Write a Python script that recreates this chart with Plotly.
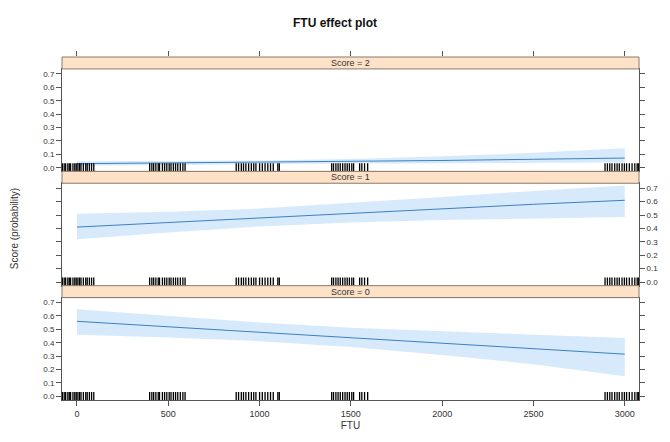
import plotly.graph_objects as go

# Effect of FTU on the predicted probability of each Score level (ordinal model)
ftu = [0, 500, 1000, 1500, 2000, 2500, 3000]

score2_fit = [0.030, 0.035, 0.040, 0.047, 0.054, 0.063, 0.072]
score2_lo = [0.012, 0.020, 0.027, 0.031, 0.034, 0.037, 0.039]
score2_hi = [0.048, 0.050, 0.054, 0.065, 0.085, 0.112, 0.145]

score1_fit = [0.410, 0.445, 0.480, 0.515, 0.548, 0.580, 0.610]
score1_lo = [0.320, 0.370, 0.415, 0.445, 0.462, 0.475, 0.485]
score1_hi = [0.510, 0.525, 0.548, 0.590, 0.635, 0.680, 0.720]

score0_fit = [0.560, 0.520, 0.480, 0.440, 0.400, 0.355, 0.315]
score0_lo = [0.460, 0.440, 0.412, 0.368, 0.308, 0.240, 0.150]
score0_hi = [0.650, 0.600, 0.552, 0.512, 0.488, 0.462, 0.435]

# observed FTU values (jittered) shown as a rug
rug_ftu = [
    -95, -88, -80, -70, -62, -50, -42, -35, -22, -12, -4, 5, 14, 22, 35, 48, 56, 68, 80, 92,
    398, 410, 420, 432, 445, 452, 468, 480, 492, 505, 515, 528, 540, 552, 566, 580, 592,
    872, 885, 900, 912, 925, 940, 955, 968, 980, 1000, 1015, 1030, 1045, 1060, 1075, 1100, 1108,
    1395, 1405, 1418, 1430, 1442, 1455, 1468, 1480, 1492, 1505, 1515, 1548, 1560, 1575, 1592,
    2892, 2905, 2918, 2930, 2945, 2958, 2970, 2985, 2998, 3010, 3025, 3040, 3055, 3068, 3075,
]

y_ticks = [0.0, 0.1, 0.2, 0.3, 0.4, 0.5, 0.6, 0.7]
x_ticks = [0, 500, 1000, 1500, 2000, 2500, 3000]
panel_labels = ["Score = 0", "Score = 1", "Score = 2"]

X_RANGE = [-82, 3078]
Y_RANGE = [-0.027, 0.737]
RUG_TOP = 0.033

LINE_COL = "#3d7fc0"
BAND_COL = "rgba(110,180,245,0.28)"
AXIS_COL = "#555555"
TEXT_COL = "#333333"
FONT = "Liberation Sans, Arial, sans-serif"

# vertical layout in pixels of the panel block (height 345)
H = 345.0
STRIP = 12
PANEL = 103
panels = []  # (bottom, top) in paper fraction, bottom panel first
strips = []
y0 = 0
for i in range(3):
    panels.append((y0 / H, (y0 + PANEL) / H))
    strips.append(((y0 + PANEL) / H, (y0 + PANEL + STRIP) / H))
    y0 += PANEL + STRIP

series = [
    (score0_fit, score0_lo, score0_hi),
    (score1_fit, score1_lo, score1_hi),
    (score2_fit, score2_lo, score2_hi),
]

fig = go.Figure()

for i, (fit, lo, hi) in enumerate(series):
    xa = "x" if i == 0 else f"x{i + 1}"
    ya = "y" if i == 0 else f"y{i + 1}"
    # confidence band
    fig.add_trace(go.Scatter(
        x=ftu + ftu[::-1], y=hi + lo[::-1], fill="toself", fillcolor=BAND_COL,
        line=dict(width=0), mode="lines", hoverinfo="skip", showlegend=False,
        xaxis=xa, yaxis=ya))
    # fitted probability
    fig.add_trace(go.Scatter(
        x=ftu, y=fit, mode="lines", line=dict(color=LINE_COL, width=1),
        showlegend=False, xaxis=xa, yaxis=ya))
    # rug of observed values
    rx, ry = [], []
    for v in rug_ftu:
        rx += [v, v, None]
        ry += [Y_RANGE[0], RUG_TOP, None]
    fig.add_trace(go.Scatter(
        x=rx, y=ry, mode="lines", line=dict(color="black", width=1.3),
        hoverinfo="skip", showlegend=False, xaxis=xa, yaxis=ya))

# invisible trace that carries the tick axis drawn above the top strip
fig.add_trace(go.Scatter(x=[ftu[0]], y=[0], mode="markers",
                         marker=dict(opacity=0), hoverinfo="skip",
                         showlegend=False, xaxis="x4", yaxis="y4"))

layout = dict(
    width=670, height=442,
    margin=dict(l=62, r=23, t=57, b=40),
    paper_bgcolor="white", plot_bgcolor="white",
    font=dict(family=FONT, color=TEXT_COL, size=8),
    title=dict(text="<b>FTU effect plot</b>", x=0.5, xanchor="center",
               y=1 - 23 / 442, yanchor="middle",
               font=dict(family=FONT, size=12, color="#111111")),
    showlegend=False,
)

for i in range(3):
    key = "" if i == 0 else str(i + 1)
    xax = dict(
        domain=[0, 1], range=X_RANGE, anchor="y" + key,
        showgrid=False, zeroline=False, showline=True, linecolor=AXIS_COL,
        linewidth=1, mirror=True, tickvals=x_ticks,
        tickfont=dict(size=9, color=TEXT_COL), tickcolor=AXIS_COL, ticklen=5,
    )
    if i == 0:
        xax.update(ticks="outside", showticklabels=True,
                   title=dict(text="FTU", font=dict(size=10, color=TEXT_COL), standoff=4))
    else:
        xax.update(ticks="", showticklabels=False)
    if i > 0:
        xax["matches"] = "x"
    layout["xaxis" + key] = xax

    yax = dict(
        domain=list(panels[i]), range=Y_RANGE, anchor="x" + key,
        showgrid=False, zeroline=False, showline=True, linecolor=AXIS_COL,
        linewidth=1, mirror="ticks", ticks="outside", ticklen=5,
        tickcolor=AXIS_COL, tickvals=y_ticks,
        ticktext=[f"{v:.1f}" for v in y_ticks],
        tickfont=dict(size=8, color=TEXT_COL),
        side="right" if i == 1 else "left",
    )
    layout["yaxis" + key] = yax

# top tick marks sit above the uppermost strip
layout["xaxis4"] = dict(
    domain=[0, 1], matches="x", anchor="y4", side="top",
    showgrid=False, zeroline=False, showline=False, ticks="outside",
    ticklen=5, tickcolor=AXIS_COL, tickvals=x_ticks, showticklabels=False,
)
layout["yaxis4"] = dict(
    domain=[strips[2][0], 1], anchor="x4", range=[0, 1], visible=False,
    showgrid=False, zeroline=False,
)

shapes = []
annotations = []
for i in range(3):
    s0, s1 = strips[i]
    shapes.append(dict(type="rect", xref="paper", yref="paper", x0=0, x1=1,
                       y0=s0, y1=s1, fillcolor="#fde2c8",
                       line=dict(color="#8a7a6a", width=1), layer="above"))
    annotations.append(dict(text=panel_labels[i], xref="paper", yref="paper",
                            x=0.5, y=(s0 + s1) / 2, showarrow=False,
                            font=dict(size=9, color=TEXT_COL),
                            xanchor="center", yanchor="middle"))

annotations.append(dict(text="Score (probability)", xref="paper", yref="paper",
                        x=-(62 - 14) / 585, y=0.5, textangle=-90, showarrow=False,
                        font=dict(size=10, color=TEXT_COL),
                        xanchor="center", yanchor="middle"))

layout["shapes"] = shapes
layout["annotations"] = annotations
fig.update_layout(**layout)

fig.write_html("out.html")
